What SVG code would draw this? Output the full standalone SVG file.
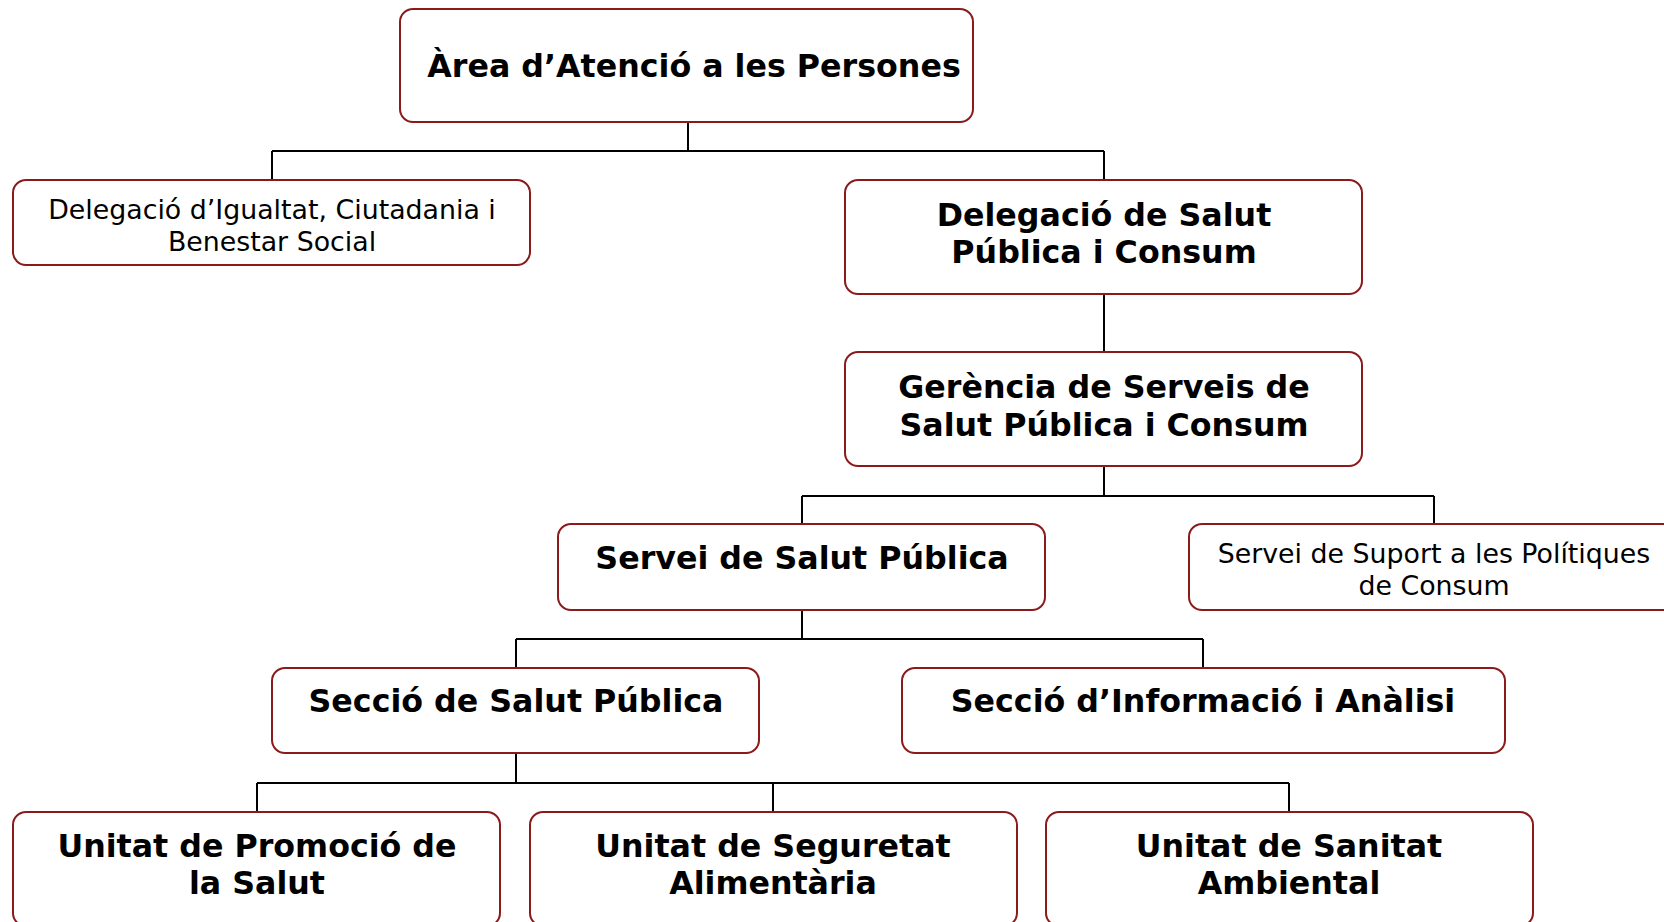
<svg xmlns="http://www.w3.org/2000/svg" width="1664" height="922" viewBox="0 0 1664 922">
<style>
.box{fill:#fff;stroke:#8B1A1A;stroke-width:2}
.c{fill:none;stroke:#000;stroke-width:2}
.b{font-family:"DejaVu Sans",Verdana,sans-serif;font-weight:bold;font-size:31.7px;text-anchor:middle;fill:#000}
.r{font-family:"DejaVu Sans",Verdana,sans-serif;font-size:26.8px;text-anchor:middle;fill:#000}
</style>
<rect width="1664" height="922" fill="#fff"/>
<g id="connectors">
<path class="c" d="M688,122V151M272,151H1104M272,151V180M1104,151V180"/>
<path class="c" d="M1104,294V352"/>
<path class="c" d="M1104,466V496M802,496H1434M802,496V524M1434,496V524"/>
<path class="c" d="M802,610V639M516,639H1203M516,639V668M1203,639V668"/>
<path class="c" d="M516,753V783M257,783H1289M257,783V812M773,783V812M1289,783V812"/>
</g>
<g id="n-area"><rect class="box" x="400" y="9" width="573" height="113" rx="13"/><text class="b" x="694" y="77">Àrea d’Atenció a les Persones</text></g>
<g id="n-igualtat"><rect class="box" x="13" y="180" width="517" height="85" rx="13"/><text class="r" x="272" y="219">Delegació d’Igualtat, Ciutadania i</text><text class="r" x="272" y="251">Benestar Social</text></g>
<g id="n-delegacio-salut"><rect class="box" x="845" y="180" width="517" height="114" rx="13"/><text class="b" x="1104" y="226">Delegació de Salut</text><text class="b" x="1104" y="263">Pública i Consum</text></g>
<g id="n-gerencia"><rect class="box" x="845" y="352" width="517" height="114" rx="13"/><text class="b" x="1104" y="398">Gerència de Serveis de</text><text class="b" x="1104" y="436">Salut Pública i Consum</text></g>
<g id="n-servei-salut"><rect class="box" x="558" y="524" width="487" height="86" rx="13"/><text class="b" x="802" y="569">Servei de Salut Pública</text></g>
<g id="n-servei-consum"><rect class="box" x="1189" y="524" width="517" height="86" rx="13"/><text class="r" x="1434" y="563">Servei de Suport a les Polítiques</text><text class="r" x="1434" y="595">de Consum</text></g>
<g id="n-seccio-salut"><rect class="box" x="272" y="668" width="487" height="85" rx="13"/><text class="b" x="516" y="712">Secció de Salut Pública</text></g>
<g id="n-seccio-info"><rect class="box" x="902" y="668" width="603" height="85" rx="13"/><text class="b" x="1203" y="712">Secció d’Informació i Anàlisi</text></g>
<g id="n-promocio"><rect class="box" x="13" y="812" width="487" height="114" rx="13"/><text class="b" x="257" y="857">Unitat de Promoció de</text><text class="b" x="257" y="894">la Salut</text></g>
<g id="n-seguretat"><rect class="box" x="530" y="812" width="487" height="114" rx="13"/><text class="b" x="773" y="857">Unitat de Seguretat</text><text class="b" x="773" y="894">Alimentària</text></g>
<g id="n-sanitat"><rect class="box" x="1046" y="812" width="487" height="114" rx="13"/><text class="b" x="1289" y="857">Unitat de Sanitat</text><text class="b" x="1289" y="894">Ambiental</text></g>
</svg>
